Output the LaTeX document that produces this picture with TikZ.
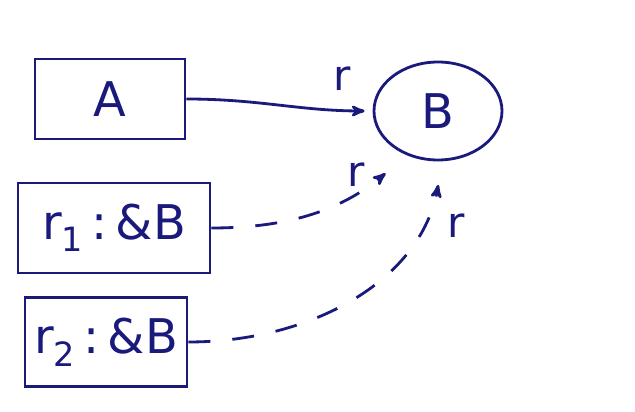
\documentclass[tikz,border=0pt]{standalone}
\usepackage{fontspec}
\setsansfont{DejaVu Sans}
\usetikzlibrary{positioning,arrows,shapes.geometric,calc}
\definecolor{ink}{HTML}{1A1A7C}
\tikzset{
	>=stealth'
}

\begin{document}
\begin{tikzpicture}[
every node/.style = {
	font = \sffamily,
	text = ink
},
box/.style = {
	draw = ink,
	line width = 2pt,
	font = \sffamily\fontsize{34}{40}\selectfont
},
refline/.style = {
	draw = ink,
	line width = 2pt,
	dash pattern = on 0.55cm off 0.55cm
},
lbl/.style = {
	font = \sffamily\fontsize{30}{34}\selectfont
}
]
\useasboundingbox (0,0) rectangle (15.875,10.275);

\node (a) [box, minimum width = 3.75cm, minimum height = 2cm] at (2.75,7.8) {A};
\node (b) [box, ellipse, minimum width = 3.2cm, minimum height = 2.45cm] at (10.95,7.5) {B};
\node (r1) [box, minimum width = 4.8cm, minimum height = 2.25cm] at (2.85,4.575) {r\textsubscript{1}\,:\,\&B};
\node (r2) [box, minimum width = 4.05cm, minimum height = 2.22cm] at (2.65,1.725) {r\textsubscript{2}\,:\,\&B};

\draw [->, draw = ink, line width = 2pt, shorten > = 0.2cm] (a.east) to[out=0, in=180] node [lbl, above = 0.35cm, pos = 0.85] {r} (b.west);
\draw [->, refline, shorten > = 0.7cm] (r1.east) to[out=0, in=220] node [lbl, above = 0cm, pos = 0.72] {r} (b.235);
\draw [->, refline, shorten > = 0.6cm] (r2.east) to[out=0, in=260] node [lbl, right = 0.55cm, pos = 0.8] {r} (b.275);

\end{tikzpicture}
\end{document}
